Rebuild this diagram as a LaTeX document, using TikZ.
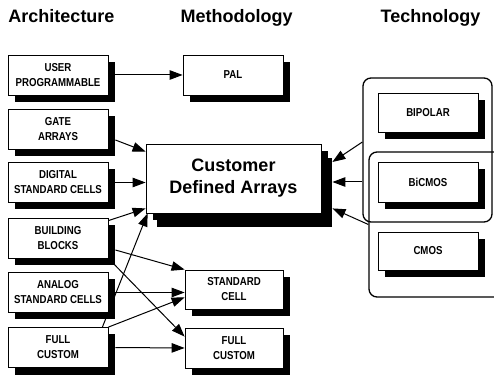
\documentclass[tikz,border=0pt]{standalone}
\usepackage{fontspec}
\setmainfont{Liberation Sans}
\newfontfamily\narrowfont[FakeStretch=0.84]{Liberation Sans}
\usetikzlibrary{calc, shadows, arrows.meta}

\tikzset{
  cell/.style={draw, fill=white, line width=0.8pt, minimum width=100pt, minimum height=40pt, inner sep=1pt, align=center,
    font=\narrowfont\bfseries\fontsize{11.5}{15}\selectfont,
    general shadow={fill=black, shadow xshift=7pt, shadow yshift=-7pt}},
  group/.style={draw, rounded corners=8pt, line width=1.3pt, inner sep=0pt},
  title/.style={font=\bfseries\fontsize{18}{20}\selectfont, anchor=base},
  arr/.style={line width=1pt, -{Triangle[length=13pt, width=9.5pt]}},
}

\begin{document}
\begin{tikzpicture}[x=1pt, y=1pt]
  \useasboundingbox (0,0) rectangle (494,374);

  \node[title] (arch) at (61.5,351) {Architecture};
  \node[title] (meth) at (236.5,351) {Methodology};
  \node[title] (tech) at (430.5,351) {Technology};

  \node[group, minimum width=129pt, minimum height=144pt] (grpA) at (427.5,224) {};
  \node[group, minimum width=136pt, minimum height=145pt] (grpB) at (437,149.5) {};

  \node[cell] (user) at (58,299) {USER\\PROGRAMMABLE};
  \node[cell] (gate) at (58,245) {GATE\\ARRAYS};
  \node[cell] (digital) at (58,191.5) {DIGITAL\\STANDARD CELLS};
  \node[cell] (building) at (58,136) {BUILDING\\BLOCKS};
  \node[cell] (analog) at (58,81.5) {ANALOG\\STANDARD CELLS};
  \node[cell] (full) at (58,26.5) {FULL\\CUSTOM};

  \node[cell] (pal) at (233,299) {PAL};
  \node[cell, minimum width=175pt, minimum height=69pt, font=\bfseries\fontsize{18}{22}\selectfont,
    general shadow={fill=black, shadow xshift=11pt, shadow yshift=-14pt}] (cda) at (233.5,195.5) {Customer\\Defined Arrays};
  \node[cell, minimum width=98pt, minimum height=39pt] (stdcell) at (234,84.5) {STANDARD\\CELL};
  \node[cell, minimum width=98pt] (fullmid) at (234,26) {FULL\\CUSTOM};

  \node[cell, minimum height=39pt] (bipolar) at (428,261.5) {BIPOLAR};
  \node[cell] (bicmos) at (428,192) {BiCMOS};
  \node[cell, minimum height=38pt] (cmos) at (428,123) {CMOS};

  \draw[arr] ($(user.east)+(7,0)$) -- (pal.west);
  \draw[arr] ($(gate.east)+(7,-11)$) -- ($(cda.north west)+(0,-8)$);
  \draw[arr] ($(digital.east)+(7,0)$) -- (cda.west |- digital.east);
  \draw[arr] ($(building.north east)+(0,-3)$) -- ($(cda.south west)+(0,5)$);
  \draw[arr] ($(building.east)+(7,-12)$) -- (stdcell.north west);
  \draw[arr] (building.south east) -- ($(fullmid.north west)+(0,-9)$);
  \draw[arr] ($(analog.east)+(7,0)$) -- (stdcell.west |- analog.east);
  \draw[arr] ($(full.north east)+(-6,0)$) -- ($(cda.south west)+(2,0)$);
  \draw[arr] (full.north east) -- ($(stdcell.south west)+(0,12)$);
  \draw[arr] ($(full.east)+(7,0)$) -- (fullmid.west);

  \draw[arr] ($(grpA.west)+(0,8)$) -- ($(cda.east)+(11,16.5)$);
  \draw[arr] (grpA.west |- bicmos) -- ($(cda.east |- bicmos)+(11,0)$);
  \draw[arr] (grpB.west) -- ($(cda.south east)+(11,5)$);
\end{tikzpicture}
\end{document}
